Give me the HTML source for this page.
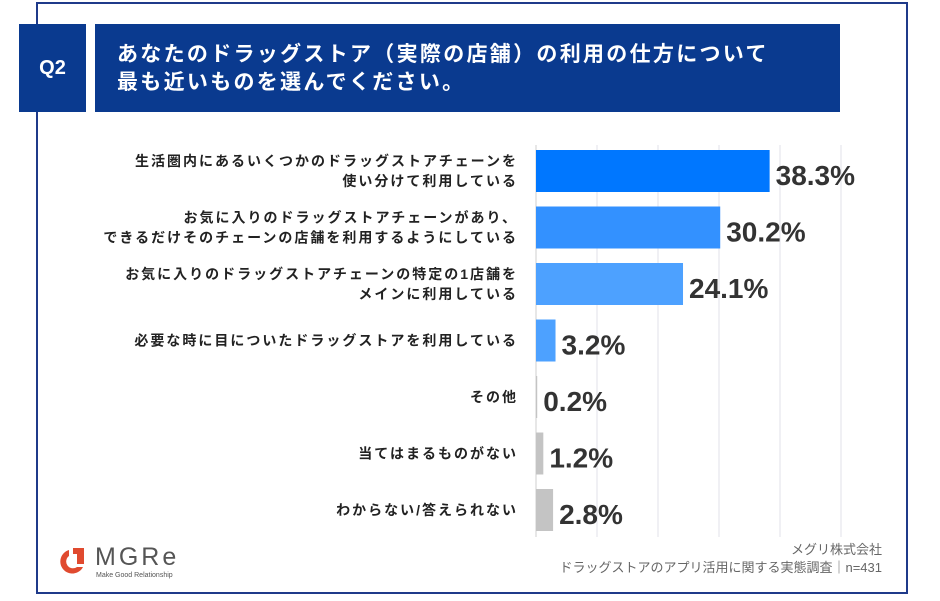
<!DOCTYPE html>
<html><head><meta charset="utf-8">
<style>
body{margin:0;width:940px;height:601px;background:#fff;position:relative;overflow:hidden;font-family:"Liberation Sans","Noto Sans CJK JP",sans-serif;}
.abs{position:absolute;}
</style></head><body>
<div class="abs" style="left:36px;top:2px;width:868px;height:588px;border:2px solid #1f3a8a;"></div>
<div class="abs" style="left:19px;top:24px;width:67px;height:88px;background:#0a3a8f;color:#fff;font-weight:bold;font-size:20px;line-height:88px;text-align:center;">Q2</div>
<div class="abs" style="left:95px;top:24px;width:745px;height:88px;background:#0a3a8f;color:#fff;font-weight:bold;font-size:21px;line-height:28px;box-sizing:border-box;padding:17px 0 0 22px;letter-spacing:2.3px;">あなたのドラッグストア（実際の店舗）の利用の仕方について<br>最も近いものを選んでください。</div>
<svg class="abs" style="left:0;top:0" width="940" height="601">
<g id="grid"></g><g id="bars"></g>
</svg>
<div class="abs" style="left:53px;top:545px;width:140px;height:40px;">
<svg width="34" height="34" style="position:absolute;left:2px;top:0"><path d="M14 5 A12 12 0 1 0 28 22 L22 22 A6.5 6.5 0 1 1 14 11 Z" fill="#e04a2f"/><rect x="22" y="3" width="7" height="16" fill="#e04a2f"/><rect x="18" y="3" width="11" height="6" fill="#e04a2f"/></svg>
<div style="position:absolute;left:42px;top:-2px;font-size:25px;color:#555;letter-spacing:3px;">MGRe</div>
<div style="position:absolute;left:43px;top:27px;font-size:7px;color:#555;">Make Good Relationship</div>
</div>
<div class="abs" style="right:58px;top:541px;text-align:right;font-size:13px;color:#666;line-height:18px;">メグリ株式会社<br>ドラッグストアのアプリ活用に関する実態調査｜n=431</div>
<script>
const categories=["生活圏内にあるいくつかのドラッグストアチェーンを\n使い分けて利用している","お気に入りのドラッグストアチェーンがあり、\nできるだけそのチェーンの店舗を利用するようにしている","お気に入りのドラッグストアチェーンの特定の1店舗を\nメインに利用している","必要な時に目についたドラッグストアを利用している","その他","当てはまるものがない","わからない/答えられない"];
const values=[38.3,30.2,24.1,3.2,0.2,1.2,2.8];
const valueLabels=["38.3%","30.2%","24.1%","3.2%","0.2%","1.2%","2.8%"];
const gridTicks=[0,10,20,30,40,50];
const colors=["#0077ff","#3391ff","#4da1ff","#4da1ff","#c4c4c4","#c4c4c4","#c4c4c4"];
const NS="http://www.w3.org/2000/svg";
const x=v=>536+v*6.1;
const y=i=>150+i*56.5;
const bh=42;
const grid=document.getElementById('grid'),bars=document.getElementById('bars');
gridTicks.forEach(t=>{const l=document.createElementNS(NS,'line');


l.setAttribute('x1',x(t));l.setAttribute('x2',x(t));l.setAttribute('y1',145);l.setAttribute('y2',537);
l.setAttribute('stroke',t===0?'#cfcfcf':'#e2e2e8');l.setAttribute('stroke-width',1);grid.appendChild(l);});
values.forEach((v,i)=>{
const r=document.createElementNS(NS,'rect');


r.setAttribute('x',x(0));r.setAttribute('y',y(i));r.setAttribute('width',Math.max(0.5,x(v)-x(0)));r.setAttribute('height',bh);r.setAttribute('fill',colors[i]);bars.appendChild(r);
const t=document.createElementNS(NS,'text');


t.setAttribute('x',x(v)+6);t.setAttribute('y',y(i)+bh/2+14);t.setAttribute('font-size','28');t.setAttribute('font-weight','bold');t.setAttribute('fill','#333');t.textContent=valueLabels[i];bars.appendChild(t);
const lines=categories[i].split('\n');
lines.forEach((s,j)=>{const c=document.createElementNS(NS,'text');


c.setAttribute('x',518);c.setAttribute('text-anchor','end');c.setAttribute('font-size','14');c.setAttribute('font-weight','bold');c.setAttribute('fill','#222');c.setAttribute('letter-spacing','2');
c.setAttribute('y',y(i)+bh/2+5+(j-(lines.length-1)/2)*20);c.textContent=s;bars.appendChild(c);});
});
</script>
</body></html>
